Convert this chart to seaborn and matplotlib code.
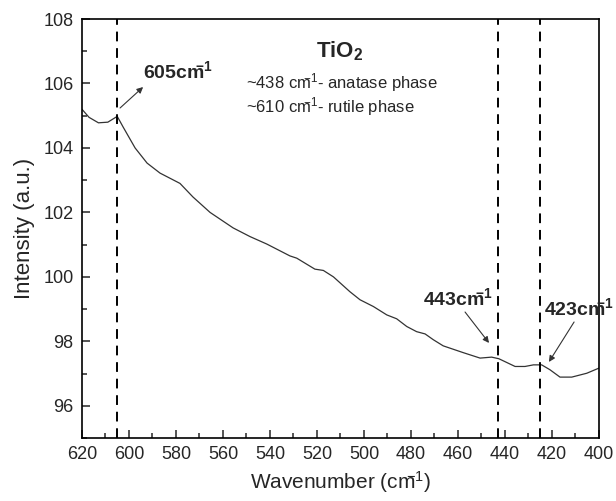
import matplotlib
matplotlib.use('Agg')
import matplotlib.pyplot as plt
import seaborn as sns
import pandas as pd

# Raman spectrum
wavenumber = [620, 617, 613, 609, 605, 602.5, 597.4, 592.3, 586.8, 578.3, 572.8,
              565.5, 555.7, 548.5, 541.4, 531.5, 528.6, 520.9, 517.3, 513, 506,
              501.7, 496, 490.3, 486.1, 481.8, 477.6, 474, 470.5, 466.3, 457.8,
              450.6, 445.7, 442.6, 435.7, 431.5, 427.9, 424.4, 420.9, 416.6,
              411.6, 405.2, 400]
intensity = [105.2, 104.95, 104.78, 104.8, 104.98, 104.65, 104.0, 103.53, 103.22,
             102.9, 102.48, 102.0, 101.52, 101.25, 101.02, 100.65, 100.58, 100.24,
             100.2, 100.0, 99.54, 99.29, 99.08, 98.82, 98.7, 98.46, 98.3, 98.23,
             98.05, 97.86, 97.65, 97.48, 97.51, 97.46, 97.22, 97.22, 97.27, 97.27,
             97.12, 96.89, 96.89, 97.01, 97.17]
peak_lines = [605, 443, 425]
x_ticks = [620, 600, 580, 560, 540, 520, 500, 480, 460, 440, 420, 400]
y_ticks = [96, 98, 100, 102, 104, 106, 108]

df = pd.DataFrame({'wavenumber': wavenumber, 'intensity': intensity})

sns.set_style('ticks')
plt.rcParams['font.family'] = ['Liberation Sans', 'DejaVu Sans']
plt.rcParams['mathtext.fontset'] = 'custom'
plt.rcParams['mathtext.rm'] = 'Liberation Sans'
plt.rcParams['mathtext.bf'] = 'Liberation Sans:bold'
plt.rcParams['mathtext.it'] = 'Liberation Sans:italic'

fig = plt.figure(figsize=(6.16, 5.01), dpi=100)
ax = fig.add_axes([0.1331, 0.1257, 0.8393, 0.8363])

sns.lineplot(data=df, x='wavenumber', y='intensity', ax=ax, color='#333333', lw=0.9)

for x in peak_lines:
    ax.axvline(x, color='black', ls=(0, (5, 3.5)), lw=1.4)

ax.set_xlim(620, 400)
ax.set_ylim(95, 108)
ax.set_xticks(x_ticks)
ax.set_xticks(range(410, 620, 20), minor=True)
ax.set_yticks(y_ticks)
ax.set_yticks(range(95, 108, 2), minor=True)
ax.tick_params(which='both', direction='in', top=False, right=False, labelsize=13, width=1.1)
ax.tick_params(which='major', length=6, pad=6)
ax.tick_params(which='minor', length=3.5)
for s in ax.spines.values():
    s.set_linewidth(1.2)
    s.set_color('black')

ax.set_xlabel(r'Wavenumber (cm$\!\!\!^{-1}$)', fontsize=15, labelpad=4)
ax.set_ylabel('Intensity (a.u.)', fontsize=16, labelpad=6)

# labels and arrows
arr = dict(arrowstyle='-|>', color='#333333', lw=0.8, mutation_scale=9, shrinkA=0, shrinkB=0)
ax.annotate('', xy=(594.0, 105.89), xytext=(603.8, 105.24), arrowprops=arr)
ax.annotate('', xy=(446.8, 97.95), xytext=(457.0, 98.91), arrowprops=arr)
ax.annotate('', xy=(421.3, 97.36), xytext=(410.6, 98.6), arrowprops=arr)

ax.text(594, 106.17, r'605cm$\!\!\!^{\mathbf{-1}}$', fontsize=14, fontweight='bold', va='baseline')
ax.text(474.9, 99.13, r'443cm$\!\!\!^{\mathbf{-1}}$', fontsize=14, fontweight='bold', va='baseline')
ax.text(423.5, 98.82, r'423cm$\!\!\!^{\mathbf{-1}}$', fontsize=14, fontweight='bold', va='baseline',
        clip_on=False)

ax.text(510.2, 106.82, r'TiO$_{\mathbf{2}}$', fontsize=16, fontweight='bold', ha='center', va='baseline')
ax.text(550.2, 105.86, r'~438 cm$\!\!\!^{-1}$- anatase phase', fontsize=12, va='baseline')
ax.text(550.2, 105.09, r'~610 cm$\!\!\!^{-1}$- rutile phase', fontsize=12, va='baseline')

fig.savefig('out.png', dpi=100)
